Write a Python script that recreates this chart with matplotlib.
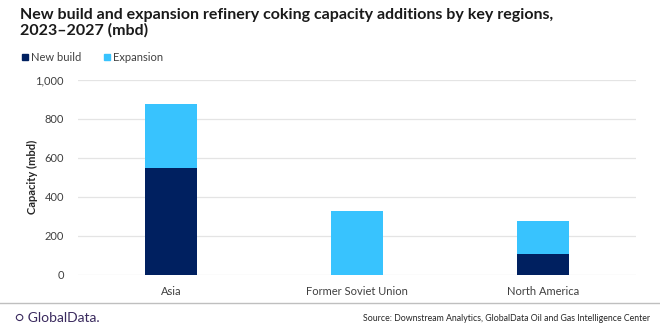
import matplotlib
matplotlib.use("Agg")
import matplotlib.pyplot as plt
import numpy as np

categories = ["Asia", "Former Soviet Union", "North America"]
new_build = [550, 0, 105]
expansion = [327, 330, 170]
yticks = [0, 200, 400, 600, 800, 1000]
ytick_labels = ["0", "200", "400", "600", "800", "1,000"]

plt.rcParams['font.family'] = ['Lato', 'DejaVu Sans']

fig = plt.figure(figsize=(6.6, 3.3), dpi=100)
ax = fig.add_axes([0.118, 0.167, 0.846, 0.591])

x = np.arange(len(categories))
c_new = "#002060"
c_exp = "#38c3fe"
ax.bar(x, new_build, width=0.28, color=c_new, zorder=3)
ax.bar(x, expansion, width=0.28, bottom=new_build, color=c_exp, zorder=3)

ax.set_xlim(-0.5, 2.5)
ax.set_ylim(0, 1000)
ax.set_yticks(yticks)
ax.set_yticklabels(ytick_labels)
ax.set_xticks(x)
ax.set_xticklabels(categories)
ax.grid(axis='y', color='#e4e4e4', linewidth=0.9, zorder=0)
for s in ax.spines.values():
    s.set_visible(False)
ax.tick_params(axis='both', length=0, labelsize=8, colors='#404040')
ax.tick_params(axis='y', pad=10)
ax.tick_params(axis='x', pad=8)
ax.set_ylabel("Capacity (mbd)", fontsize=8, fontweight='bold', color='#262626', labelpad=-2)

fig.text(0.03, 0.975, "New build and expansion refinery coking capacity additions by key regions,\n2023\u20132027 (mbd)",
         fontsize=11.5, fontweight='bold', color='#1a1a1a', va='top', ha='left', linespacing=1.1)

# legend
fig.patches.append(matplotlib.patches.Rectangle((0.033, 0.817), 0.009, 0.018, transform=fig.transFigure, color=c_new))
fig.text(0.047, 0.826, "New build", fontsize=8, color='#404040', va='center')
fig.patches.append(matplotlib.patches.Rectangle((0.157, 0.817), 0.009, 0.018, transform=fig.transFigure, color=c_exp))
fig.text(0.171, 0.826, "Expansion", fontsize=8, color='#404040', va='center')

# footer
fig.add_artist(matplotlib.lines.Line2D([0, 1], [0.082, 0.082], transform=fig.transFigure, color='#bfbfbf', linewidth=1))
fig.text(0.022, 0.035, "\u25cb GlobalData.", fontsize=10, color='#3a2a5e', va='center', ha='left')
fig.text(0.985, 0.035, "Source: Downstream Analytics, GlobalData Oil and Gas Intelligence Center",
         fontsize=6.3, color='#262626', va='center', ha='right')

fig.savefig("out.png", dpi=100)
